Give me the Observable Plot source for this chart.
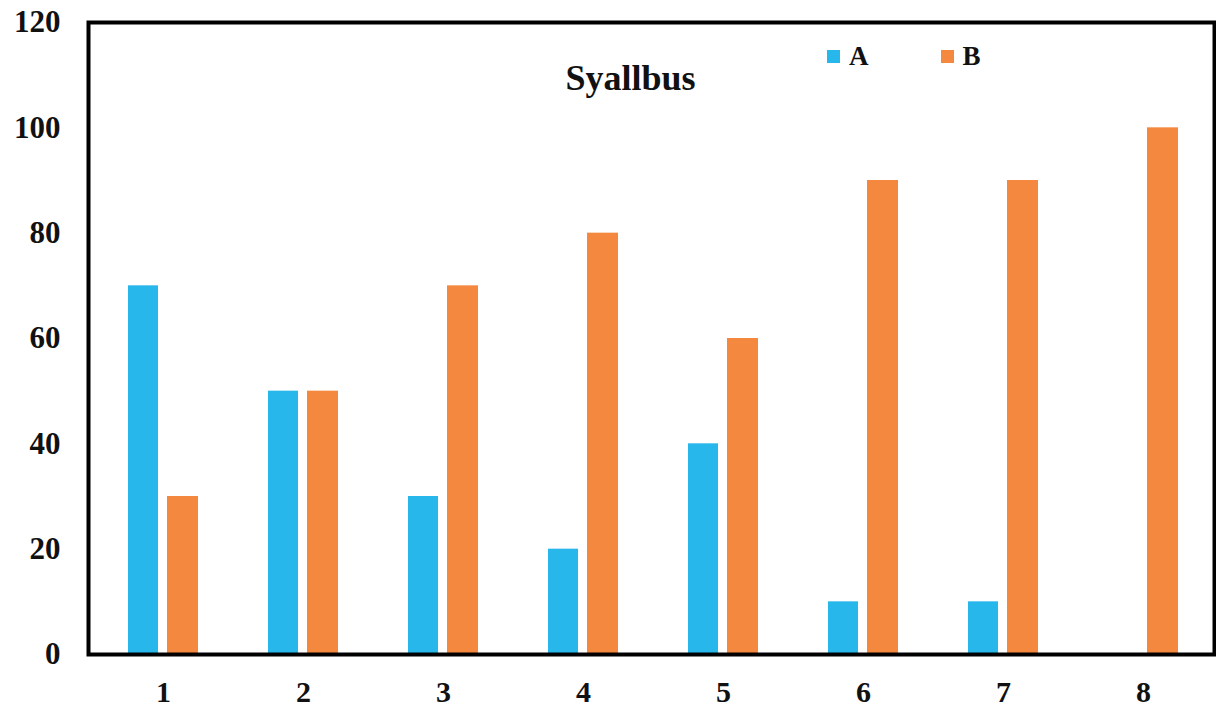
<!DOCTYPE html>
<html>
<head>
<meta charset="utf-8">
<script src="https://cdn.jsdelivr.net/npm/d3@7"></script>
<script src="https://cdn.jsdelivr.net/npm/@observablehq/plot@0.6"></script>
<style>
  html, body { margin: 0; padding: 0; background: #fff; }
  #wrap { position: relative; width: 1216px; height: 709px; }
  #legend { position: absolute; left: 827px; top: 40px; }
  .lg-swatch { margin-right: 72px !important; }
  .lg-swatch svg { margin-right: 9px !important; }
</style>
</head>
<body>
<div id="wrap"><div id="legend"></div></div>
<script>
const groups = ["1", "2", "3", "4", "5", "6", "7", "8"];
const seriesA = [70, 50, 30, 20, 40, 10, 10, 0];
const seriesB = [30, 50, 70, 80, 60, 90, 90, 100];
const seriesNames = ["A", "B"];
const seriesColors = ["#27b7ea", "#f3883e"];
const yTicks = [0, 20, 40, 60, 80, 100, 120];
const title = "Syallbus";

const rowsA = groups.map((g, i) => ({group: g, series: "A", value: seriesA[i]}));
const rowsB = groups.map((g, i) => ({group: g, series: "B", value: seriesB[i]}));

const font = "'Liberation Serif', 'Times New Roman', serif";

const chart = Plot.plot({
  width: 1216,
  height: 709,
  marginLeft: 88,
  marginRight: 2,
  marginTop: 22,
  marginBottom: 55,
  style: {fontFamily: font, fontSize: "30px", fontWeight: "bold", color: "#111", background: "#fff"},
  x: {domain: groups, padding: 0, insetLeft: 4, label: null},
  y: {domain: [0, 120], label: null},
  color: {domain: seriesNames, range: seriesColors},
  marks: [
    Plot.barY(rowsA, {x: "group", y: "value", fill: "series", insetLeft: 35, insetRight: 75}),
    Plot.barY(rowsB, {x: "group", y: "value", fill: "series", insetLeft: 74, insetRight: 35}),
    Plot.ruleY([0], {stroke: "#333", strokeWidth: 3}),
    Plot.frame({stroke: "#000", strokeWidth: 4}),
    Plot.axisX({tickSize: 0, tickPadding: 26, fontSize: 30, fontWeight: "bold", label: null}),
    Plot.axisY({ticks: yTicks, tickSize: 0, tickPadding: 28, fontSize: 31, fontWeight: "bold", label: null}),
    Plot.text([title], {frameAnchor: "top-left", dx: 542, dy: 56, text: d => d, fontSize: 36, fontWeight: "bold", lineAnchor: "middle", textAnchor: "middle", fill: "#111"})
  ]
});
document.getElementById("wrap").prepend(chart);

const legend = Plot.legend({
  color: {domain: seriesNames, range: seriesColors},
  legend: "swatches",
  swatchSize: 13,
  className: "lg",
  style: {fontFamily: font, fontSize: "27px", fontWeight: "bold", color: "#111"}
});
document.getElementById("legend").appendChild(legend);
</script>
</body>
</html>
